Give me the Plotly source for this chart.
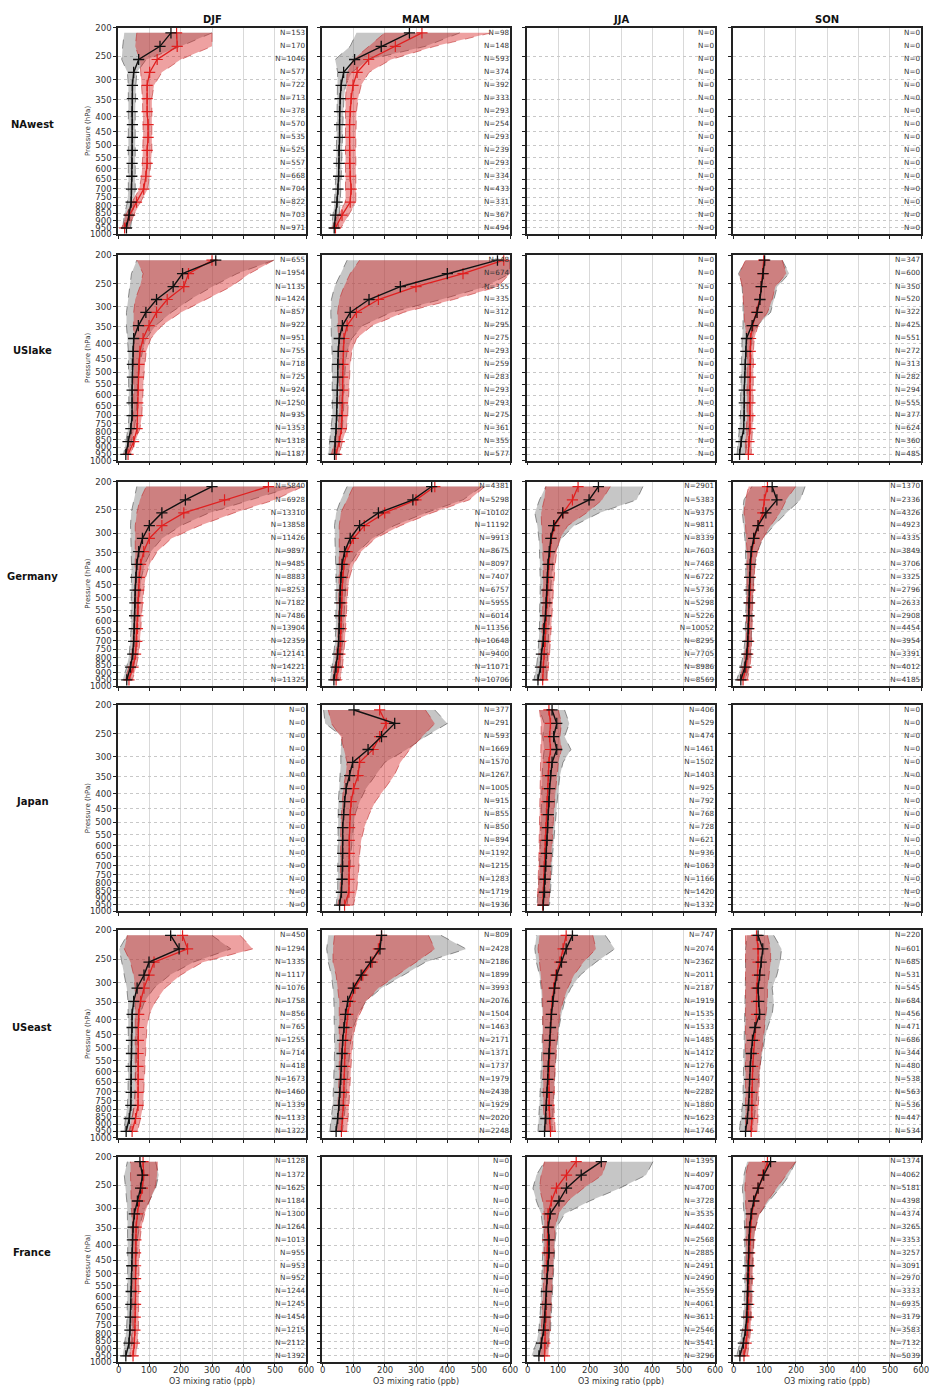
import plotly.graph_objects as go
import math

# ---------------- data ----------------
levels_hpa = [208, 231, 256, 283, 313, 347, 384, 425, 470, 520, 575, 636, 703, 778, 861, 952]
regions = ["NAwest", "USlake", "Germany", "Japan", "USeast", "France"]
seasons = ["DJF", "MAM", "JJA", "SON"]
pressure_ticks = [200, 250, 300, 350, 400, 450, 500, 550, 600, 650, 700, 750, 800, 850, 900, 950, 1000]
ozone_ticks = [0, 100, 200, 300, 400, 500, 600]

# NAwest DJF
naw_djf_obs = [169, 134, 66, 50, 46, 46, 45, 46, 46, 46, 45, 44, 43, 42, 35, 27]
naw_djf_obs_lo = [20, 15, 12, 30, 33, 33, 33, 33, 33, 33, 33, 33, 33, 30, 20, 15]
naw_djf_obs_hi = [300, 200, 90, 60, 57, 55, 55, 55, 55, 55, 55, 55, 55, 52, 45, 40]
naw_djf_mod = [187, 189, 125, 101, 93, 93, 93, 96, 96, 93, 93, 89, 82, 59, 37, 21]
naw_djf_mod_lo = [60, 55, 70, 72, 75, 78, 80, 80, 80, 80, 78, 75, 68, 45, 25, 12]
naw_djf_mod_hi = [300, 300, 200, 140, 115, 108, 108, 108, 108, 108, 105, 100, 95, 72, 50, 35]
# NAwest MAM
naw_mam_obs = [279, 189, 104, 69, 61, 58, 56, 56, 56, 54, 54, 53, 51, 48, 43, 39]
naw_mam_obs_lo = [110, 90, 42, 50, 50, 48, 48, 47, 47, 46, 46, 45, 42, 40, 35, 30]
naw_mam_obs_hi = [440, 330, 150, 95, 75, 70, 68, 67, 66, 65, 64, 63, 60, 58, 55, 52]
naw_mam_mod = [319, 234, 149, 112, 99, 93, 90, 88, 88, 88, 88, 90, 93, 90, 64, 43]
naw_mam_mod_lo = [200, 150, 100, 80, 78, 75, 75, 75, 75, 75, 75, 75, 75, 75, 50, 30]
naw_mam_mod_hi = [540, 360, 220, 150, 125, 115, 110, 108, 108, 108, 108, 108, 108, 108, 85, 60]
# USlake DJF
usl_djf_obs = [312, 206, 176, 123, 89, 65, 50, 48, 46, 46, 45, 45, 45, 41, 32, 25]
usl_djf_obs_lo = [60, 43, 37, 32, 27, 27, 30, 33, 35, 35, 35, 35, 35, 32, 24, 18]
usl_djf_obs_hi = [497, 380, 300, 230, 170, 120, 90, 78, 70, 65, 62, 60, 58, 52, 42, 34]
usl_djf_mod = [300, 225, 210, 157, 123, 99, 80, 70, 67, 65, 64, 63, 62, 61, 50, 32]
usl_djf_mod_lo = [60, 80, 70, 55, 50, 48, 48, 50, 50, 50, 50, 50, 48, 45, 35, 22]
usl_djf_mod_hi = [497, 420, 360, 280, 200, 140, 105, 90, 85, 82, 80, 78, 76, 70, 55, 40]
# USlake MAM
usl_mam_obs = [560, 400, 250, 150, 90, 65, 55, 52, 50, 50, 49, 48, 47, 45, 42, 40]
usl_mam_obs_lo = [80, 60, 40, 30, 28, 28, 30, 32, 33, 33, 33, 33, 33, 30, 25, 20]
usl_mam_obs_hi = [600, 600, 520, 380, 220, 130, 95, 80, 75, 72, 70, 70, 68, 65, 55, 50]
usl_mam_mod = [580, 450, 300, 180, 110, 80, 70, 68, 67, 66, 66, 65, 64, 62, 55, 45]
usl_mam_mod_lo = [120, 90, 70, 55, 50, 50, 52, 55, 55, 55, 55, 55, 55, 50, 40, 30]
usl_mam_mod_hi = [600, 600, 560, 420, 260, 160, 110, 95, 90, 88, 85, 85, 82, 78, 65, 55]
# USlake SON
usl_son_obs = [101, 96, 90, 86, 77, 61, 43, 41, 39, 37, 36, 36, 36, 34, 26, 21]
usl_son_obs_lo = [40, 18, 29, 32, 32, 32, 29, 27, 26, 25, 25, 24, 24, 22, 17, 13]
usl_son_obs_hi = [157, 179, 141, 131, 120, 77, 61, 58, 57, 56, 56, 55, 54, 50, 45, 40]
usl_son_mod = [98, 95, 90, 85, 75, 63, 56, 55, 55, 55, 54, 54, 54, 54, 51, 49]
usl_son_mod_lo = [40, 20, 30, 33, 35, 38, 45, 45, 45, 45, 45, 45, 45, 43, 40, 38]
usl_son_mod_hi = [157, 170, 135, 125, 110, 80, 68, 65, 65, 64, 64, 64, 64, 63, 60, 58]
# Germany DJF
ger_djf_obs = [300, 215, 140, 100, 78, 66, 60, 57, 55, 54, 53, 52, 50, 47, 40, 28]
ger_djf_obs_lo = [60, 50, 42, 40, 40, 42, 43, 43, 43, 43, 42, 42, 40, 36, 28, 15]
ger_djf_obs_hi = [560, 420, 290, 200, 140, 105, 85, 75, 70, 67, 65, 63, 60, 57, 50, 40]
ger_djf_mod = [480, 340, 210, 140, 100, 82, 72, 68, 66, 64, 63, 62, 60, 56, 48, 35]
ger_djf_mod_lo = [90, 70, 60, 55, 55, 55, 55, 55, 53, 52, 52, 50, 48, 44, 35, 22]
ger_djf_mod_hi = [590, 500, 370, 260, 170, 125, 100, 88, 82, 78, 75, 73, 70, 66, 58, 46]
# Germany MAM
ger_mam_obs = [350, 290, 180, 120, 90, 72, 64, 60, 58, 57, 56, 55, 53, 50, 45, 38]
ger_mam_obs_lo = [80, 60, 45, 40, 40, 42, 44, 45, 45, 45, 45, 44, 42, 38, 32, 25]
ger_mam_obs_hi = [510, 450, 330, 230, 160, 115, 90, 80, 75, 72, 70, 68, 66, 62, 57, 50]
ger_mam_mod = [360, 300, 200, 135, 100, 80, 70, 66, 64, 63, 62, 61, 60, 57, 52, 45]
ger_mam_mod_lo = [100, 80, 60, 55, 55, 55, 55, 55, 54, 54, 53, 52, 50, 46, 40, 32]
ger_mam_mod_hi = [520, 470, 350, 250, 170, 125, 100, 88, 82, 79, 77, 75, 73, 70, 65, 58]
# Germany JJA
ger_jja_obs = [228, 198, 114, 85, 76, 71, 67, 65, 63, 61, 59, 54, 52, 46, 43, 35]
ger_jja_obs_lo = [60, 40, 25, 33, 38, 40, 42, 42, 42, 42, 40, 40, 38, 35, 30, 22]
ger_jja_obs_hi = [370, 350, 230, 150, 110, 90, 82, 78, 75, 73, 72, 70, 68, 66, 64, 62]
ger_jja_mod = [163, 145, 115, 88, 78, 73, 70, 68, 66, 64, 62, 60, 58, 55, 52, 50]
ger_jja_mod_lo = [60, 55, 45, 45, 48, 50, 52, 52, 52, 50, 50, 50, 48, 46, 44, 42]
ger_jja_mod_hi = [266, 240, 190, 130, 105, 95, 90, 86, 84, 82, 80, 78, 76, 72, 68, 66]
# Germany SON
ger_son_obs = [125, 140, 105, 80, 66, 58, 55, 53, 52, 51, 50, 49, 47, 44, 38, 25]
ger_son_obs_lo = [60, 35, 30, 33, 38, 40, 42, 42, 42, 42, 41, 40, 38, 33, 25, 12]
ger_son_obs_hi = [230, 215, 170, 130, 95, 78, 70, 66, 64, 62, 61, 60, 58, 55, 50, 40]
ger_son_mod = [110, 100, 95, 80, 68, 60, 57, 55, 54, 53, 52, 51, 50, 47, 42, 32]
ger_son_mod_lo = [50, 40, 35, 40, 42, 45, 45, 45, 45, 45, 44, 43, 42, 38, 32, 20]
ger_son_mod_hi = [200, 170, 150, 120, 95, 78, 70, 67, 65, 63, 62, 61, 60, 58, 54, 46]
# Japan MAM
jap_mam_obs = [102, 232, 190, 147, 98, 88, 77, 72, 69, 66, 66, 66, 66, 64, 62, 56]
jap_mam_obs_lo = [5, 10, 65, 60, 60, 58, 55, 52, 50, 50, 50, 50, 50, 50, 50, 45]
jap_mam_obs_hi = [360, 400, 330, 270, 200, 170, 140, 120, 105, 100, 95, 92, 90, 88, 85, 80]
jap_mam_mod = [184, 205, 184, 163, 120, 115, 101, 93, 90, 88, 87, 87, 86, 86, 86, 72]
jap_mam_mod_lo = [20, 30, 60, 70, 80, 75, 68, 65, 62, 60, 58, 58, 58, 58, 58, 50]
jap_mam_mod_hi = [330, 360, 320, 280, 250, 230, 200, 170, 150, 135, 125, 120, 118, 115, 110, 100]
# Japan JJA
jap_jja_obs = [80, 95, 85, 95, 80, 75, 72, 70, 68, 66, 64, 62, 60, 58, 56, 52]
jap_jja_obs_lo = [40, 55, 50, 55, 50, 48, 48, 46, 45, 44, 43, 42, 40, 38, 36, 32]
jap_jja_obs_hi = [120, 135, 120, 140, 115, 105, 100, 96, 92, 88, 85, 82, 80, 78, 76, 72]
jap_jja_mod = [70, 75, 72, 75, 70, 68, 66, 64, 62, 60, 58, 56, 55, 54, 52, 50]
jap_jja_mod_lo = [40, 45, 45, 45, 45, 44, 43, 42, 41, 40, 39, 38, 37, 36, 35, 33]
jap_jja_mod_hi = [100, 110, 105, 110, 100, 95, 92, 88, 85, 82, 80, 78, 76, 74, 72, 70]
# USeast DJF
use_djf_obs = [168, 195, 99, 83, 61, 50, 45, 45, 43, 43, 42, 42, 42, 41, 36, 26]
use_djf_obs_lo = [29, 4, 10, 20, 28, 32, 33, 33, 33, 33, 33, 33, 32, 30, 25, 18]
use_djf_obs_hi = [300, 360, 240, 165, 115, 85, 70, 65, 62, 60, 58, 57, 56, 52, 45, 38]
use_djf_mod = [206, 222, 115, 99, 83, 72, 66, 65, 65, 64, 64, 64, 64, 64, 56, 45]
use_djf_mod_lo = [30, 20, 40, 50, 55, 55, 55, 55, 55, 55, 55, 55, 55, 52, 45, 35]
use_djf_mod_hi = [390, 430, 270, 200, 150, 120, 100, 92, 90, 88, 86, 85, 84, 80, 72, 62]
# USeast MAM
use_mam_obs = [190, 185, 155, 125, 100, 82, 75, 70, 66, 64, 62, 60, 57, 54, 50, 45]
use_mam_obs_lo = [20, 15, 20, 30, 35, 38, 40, 40, 40, 40, 40, 38, 36, 34, 30, 25]
use_mam_obs_hi = [380, 460, 330, 260, 190, 140, 115, 100, 92, 88, 85, 82, 78, 75, 70, 65]
use_mam_mod = [190, 180, 160, 130, 105, 90, 82, 78, 75, 73, 72, 71, 70, 68, 65, 62]
use_mam_mod_lo = [40, 35, 35, 45, 50, 55, 56, 56, 56, 55, 55, 54, 54, 52, 50, 48]
use_mam_mod_hi = [340, 360, 300, 240, 180, 140, 120, 105, 98, 95, 92, 90, 88, 86, 83, 80]
# USeast JJA
use_jja_obs = [145, 125, 110, 95, 88, 82, 78, 75, 72, 70, 68, 66, 64, 62, 60, 56]
use_jja_obs_lo = [30, 25, 30, 40, 45, 48, 50, 50, 50, 48, 46, 44, 42, 40, 38, 35]
use_jja_obs_hi = [250, 280, 220, 170, 140, 120, 110, 102, 97, 93, 90, 88, 86, 84, 82, 80]
use_jja_mod = [125, 115, 105, 92, 85, 80, 77, 75, 73, 72, 71, 70, 70, 70, 72, 75]
use_jja_mod_lo = [40, 35, 40, 45, 48, 50, 52, 52, 52, 52, 52, 52, 52, 52, 55, 58]
use_jja_mod_hi = [210, 220, 180, 150, 130, 115, 105, 100, 96, 93, 90, 88, 87, 86, 88, 90]
# USeast SON
use_son_obs = [80, 95, 90, 85, 80, 82, 85, 70, 62, 58, 55, 53, 52, 50, 46, 40]
use_son_obs_lo = [45, 40, 40, 40, 40, 38, 38, 38, 36, 35, 34, 33, 32, 30, 25, 20]
use_son_obs_hi = [130, 155, 150, 140, 125, 130, 125, 110, 100, 92, 86, 82, 78, 74, 68, 60]
use_son_mod = [75, 80, 80, 78, 75, 75, 75, 72, 68, 65, 63, 62, 60, 60, 60, 58]
use_son_mod_lo = [40, 40, 42, 42, 42, 42, 42, 42, 42, 42, 42, 42, 40, 40, 40, 40]
use_son_mod_hi = [110, 120, 120, 115, 110, 110, 105, 100, 95, 90, 86, 84, 82, 80, 80, 78]
# France DJF
fra_djf_obs = [70, 78, 72, 62, 52, 48, 46, 45, 44, 43, 42, 41, 40, 38, 35, 25]
fra_djf_obs_lo = [30, 20, 25, 28, 30, 30, 31, 31, 31, 31, 30, 30, 29, 27, 22, 15]
fra_djf_obs_hi = [120, 130, 120, 100, 80, 68, 62, 60, 58, 56, 55, 54, 52, 50, 45, 38]
fra_djf_mod = [80, 82, 78, 68, 62, 58, 57, 56, 56, 56, 56, 56, 55, 54, 52, 48]
fra_djf_mod_lo = [40, 40, 40, 42, 44, 45, 46, 46, 46, 46, 46, 46, 45, 44, 42, 38]
fra_djf_mod_hi = [125, 125, 118, 100, 85, 75, 70, 68, 67, 67, 67, 67, 66, 65, 62, 58]
# France JJA
fra_jja_obs = [237, 173, 126, 102, 74, 68, 70, 70, 67, 64, 62, 60, 57, 53, 46, 38]
fra_jja_obs_lo = [56, 30, 19, 30, 45, 50, 50, 50, 50, 48, 46, 44, 42, 38, 30, 14]
fra_jja_obs_hi = [402, 380, 296, 200, 120, 95, 90, 88, 86, 84, 82, 80, 78, 75, 68, 56]
fra_jja_mod = [157, 126, 94, 78, 67, 66, 66, 65, 64, 63, 62, 61, 60, 58, 57, 56]
fra_jja_mod_lo = [56, 45, 40, 50, 55, 55, 55, 55, 55, 53, 52, 50, 48, 46, 44, 42]
fra_jja_mod_hi = [253, 240, 180, 130, 100, 90, 88, 86, 84, 82, 80, 78, 76, 72, 70, 68]
# France SON
fra_son_obs = [120, 98, 80, 66, 58, 53, 51, 50, 49, 48, 47, 46, 44, 40, 33, 22]
fra_son_obs_lo = [45, 35, 30, 32, 35, 37, 38, 38, 38, 38, 37, 36, 34, 30, 22, 12]
fra_son_obs_hi = [200, 180, 150, 115, 85, 72, 66, 63, 61, 59, 58, 57, 55, 52, 46, 36]
fra_son_mod = [110, 95, 80, 68, 60, 56, 54, 53, 52, 51, 50, 50, 49, 46, 42, 35]
fra_son_mod_lo = [50, 40, 38, 40, 42, 44, 44, 44, 44, 43, 43, 42, 41, 38, 33, 25]
fra_son_mod_hi = [200, 170, 140, 110, 85, 72, 67, 65, 63, 62, 61, 60, 59, 56, 52, 46]

# sample counts (N=...) per panel, top to bottom
zeros16 = [0] * 16
n_naw_djf = [153, 170, 1046, 577, 722, 713, 378, 570, 535, 525, 557, 668, 704, 822, 703, 971]
n_naw_mam = [98, 148, 593, 374, 392, 333, 293, 254, 293, 239, 293, 334, 433, 331, 367, 494]
n_usl_djf = [655, 1954, 1135, 1424, 857, 922, 951, 755, 718, 725, 924, 1250, 935, 1353, 1318, 1187]
n_usl_mam = [48, 674, 355, 335, 312, 295, 275, 293, 259, 283, 293, 293, 275, 361, 355, 577]
n_usl_son = [347, 600, 350, 520, 322, 425, 551, 272, 313, 282, 294, 555, 377, 624, 360, 485]
n_ger_djf = [5840, 6928, 13310, 13858, 11426, 9897, 9485, 8883, 8253, 7182, 7486, 13904, 12359, 12141, 14221, 11325]
n_ger_mam = [4381, 5298, 10102, 11192, 9913, 8675, 8097, 7407, 6757, 5955, 6014, 11356, 10648, 9400, 11071, 10706]
n_ger_jja = [2901, 5383, 9375, 9811, 8339, 7603, 7468, 6722, 5736, 5298, 5226, 10052, 8295, 7705, 8986, 8569]
n_ger_son = [1370, 2336, 4326, 4923, 4335, 3849, 3706, 3325, 2796, 2633, 2908, 4454, 3954, 3391, 4012, 4185]
n_jap_mam = [377, 291, 593, 1669, 1570, 1267, 1005, 915, 855, 850, 894, 1192, 1215, 1283, 1719, 1936]
n_jap_jja = [406, 529, 474, 1461, 1502, 1403, 925, 792, 768, 728, 621, 936, 1063, 1166, 1420, 1332]
n_use_djf = [450, 1294, 1335, 1117, 1076, 1758, 856, 765, 1255, 714, 418, 1673, 1460, 1339, 1133, 1322]
n_use_mam = [809, 2428, 2186, 1899, 3993, 2076, 1504, 1463, 2171, 1371, 1737, 1979, 2438, 1929, 2020, 2248]
n_use_jja = [747, 2074, 2362, 2011, 2187, 1919, 1535, 1533, 1485, 1412, 1276, 1407, 2282, 1880, 1623, 1746]
n_use_son = [220, 601, 685, 531, 545, 684, 456, 471, 686, 344, 480, 538, 563, 536, 447, 534]
n_fra_djf = [1128, 1372, 1625, 1184, 1300, 1264, 1013, 955, 953, 952, 1244, 1245, 1454, 1215, 2112, 1392]
n_fra_jja = [1395, 4097, 4700, 3728, 3535, 4402, 2568, 2885, 2491, 2490, 3559, 4061, 3611, 2546, 3541, 3296]
n_fra_son = [1374, 4062, 5181, 4398, 4374, 3265, 3353, 3257, 3091, 2970, 3333, 6935, 3179, 3583, 7132, 5039]

profiles = {
    ("NAwest", "DJF"): (naw_djf_obs, naw_djf_obs_lo, naw_djf_obs_hi, naw_djf_mod, naw_djf_mod_lo, naw_djf_mod_hi),
    ("NAwest", "MAM"): (naw_mam_obs, naw_mam_obs_lo, naw_mam_obs_hi, naw_mam_mod, naw_mam_mod_lo, naw_mam_mod_hi),
    ("USlake", "DJF"): (usl_djf_obs, usl_djf_obs_lo, usl_djf_obs_hi, usl_djf_mod, usl_djf_mod_lo, usl_djf_mod_hi),
    ("USlake", "MAM"): (usl_mam_obs, usl_mam_obs_lo, usl_mam_obs_hi, usl_mam_mod, usl_mam_mod_lo, usl_mam_mod_hi),
    ("USlake", "SON"): (usl_son_obs, usl_son_obs_lo, usl_son_obs_hi, usl_son_mod, usl_son_mod_lo, usl_son_mod_hi),
    ("Germany", "DJF"): (ger_djf_obs, ger_djf_obs_lo, ger_djf_obs_hi, ger_djf_mod, ger_djf_mod_lo, ger_djf_mod_hi),
    ("Germany", "MAM"): (ger_mam_obs, ger_mam_obs_lo, ger_mam_obs_hi, ger_mam_mod, ger_mam_mod_lo, ger_mam_mod_hi),
    ("Germany", "JJA"): (ger_jja_obs, ger_jja_obs_lo, ger_jja_obs_hi, ger_jja_mod, ger_jja_mod_lo, ger_jja_mod_hi),
    ("Germany", "SON"): (ger_son_obs, ger_son_obs_lo, ger_son_obs_hi, ger_son_mod, ger_son_mod_lo, ger_son_mod_hi),
    ("Japan", "MAM"): (jap_mam_obs, jap_mam_obs_lo, jap_mam_obs_hi, jap_mam_mod, jap_mam_mod_lo, jap_mam_mod_hi),
    ("Japan", "JJA"): (jap_jja_obs, jap_jja_obs_lo, jap_jja_obs_hi, jap_jja_mod, jap_jja_mod_lo, jap_jja_mod_hi),
    ("USeast", "DJF"): (use_djf_obs, use_djf_obs_lo, use_djf_obs_hi, use_djf_mod, use_djf_mod_lo, use_djf_mod_hi),
    ("USeast", "MAM"): (use_mam_obs, use_mam_obs_lo, use_mam_obs_hi, use_mam_mod, use_mam_mod_lo, use_mam_mod_hi),
    ("USeast", "JJA"): (use_jja_obs, use_jja_obs_lo, use_jja_obs_hi, use_jja_mod, use_jja_mod_lo, use_jja_mod_hi),
    ("USeast", "SON"): (use_son_obs, use_son_obs_lo, use_son_obs_hi, use_son_mod, use_son_mod_lo, use_son_mod_hi),
    ("France", "DJF"): (fra_djf_obs, fra_djf_obs_lo, fra_djf_obs_hi, fra_djf_mod, fra_djf_mod_lo, fra_djf_mod_hi),
    ("France", "JJA"): (fra_jja_obs, fra_jja_obs_lo, fra_jja_obs_hi, fra_jja_mod, fra_jja_mod_lo, fra_jja_mod_hi),
    ("France", "SON"): (fra_son_obs, fra_son_obs_lo, fra_son_obs_hi, fra_son_mod, fra_son_mod_lo, fra_son_mod_hi),
}
counts = {
    ("NAwest", "DJF"): n_naw_djf, ("NAwest", "MAM"): n_naw_mam,
    ("USlake", "DJF"): n_usl_djf, ("USlake", "MAM"): n_usl_mam, ("USlake", "SON"): n_usl_son,
    ("Germany", "DJF"): n_ger_djf, ("Germany", "MAM"): n_ger_mam, ("Germany", "JJA"): n_ger_jja, ("Germany", "SON"): n_ger_son,
    ("Japan", "MAM"): n_jap_mam, ("Japan", "JJA"): n_jap_jja,
    ("USeast", "DJF"): n_use_djf, ("USeast", "MAM"): n_use_mam, ("USeast", "JJA"): n_use_jja, ("USeast", "SON"): n_use_son,
    ("France", "DJF"): n_fra_djf, ("France", "JJA"): n_fra_jja, ("France", "SON"): n_fra_son,
}

# ---------------- layout ----------------
W, H = 930, 1392
col_px = [(118, 306), (322, 510), (527, 715), (733, 921)]
row_px = [(23, 231), (252, 459), (480, 686), (705, 913), (932, 1141), (1160, 1367)]
FONT = "DejaVu Sans"

GREY_FILL = "rgba(120,120,120,0.42)"
GREY_EDGE = "rgba(70,70,70,0.8)"
RED_FILL = "rgba(215,30,30,0.42)"
RED_EDGE = "rgba(190,40,40,0.8)"

fig = go.Figure()
layout_axes = {}
annotations = []

for r, reg in enumerate(regions):
    for c, sea in enumerate(seasons):
        k = r * 4 + c + 1
        sfx = "" if k == 1 else str(k)
        xa, ya = "x" + sfx, "y" + sfx
        x0, x1 = col_px[c]
        y0, y1 = row_px[r]
        layout_axes["xaxis" + sfx] = dict(
            domain=[x0 / W, x1 / W], anchor=ya, range=[0, 600],
            tickvals=ozone_ticks, showticklabels=False,
            ticks="outside", ticklen=3, tickwidth=1, tickcolor="#222",
            showgrid=True, gridcolor="#d9d9d9", gridwidth=1,
            showline=True, linecolor="#222", linewidth=1.5, mirror=True,
            zeroline=False,
        )
        layout_axes["yaxis" + sfx] = dict(
            domain=[1 - y1 / H, 1 - y0 / H], anchor=xa, type="log",
            range=[math.log10(1000), math.log10(200)],
            tickvals=pressure_ticks, ticktext=[str(t) for t in pressure_ticks],
            showticklabels=(c == 0),
            ticks="outside", ticklen=3, tickwidth=1, tickcolor="#222",
            showgrid=True, gridcolor="#c8c8c8", gridwidth=0.8, griddash="dot",
            showline=True, linecolor="#222", linewidth=1.5, mirror=True,
            zeroline=False, tickfont=dict(family=FONT, size=8.5, color="#333"),
        )

        key = (reg, sea)
        if key in profiles:
            obs, olo, ohi, mod, mlo, mhi = profiles[key]
            lev = levels_hpa
            fig.add_trace(go.Scatter(
                x=list(ohi) + list(olo)[::-1], y=lev + lev[::-1], fill="toself",
                fillcolor=GREY_FILL, mode="lines",
                line=dict(color=GREY_EDGE, width=0.7, dash="dash"),
                xaxis=xa, yaxis=ya, hoverinfo="skip", showlegend=False))
            fig.add_trace(go.Scatter(
                x=list(mhi) + list(mlo)[::-1], y=lev + lev[::-1], fill="toself",
                fillcolor=RED_FILL, mode="lines",
                line=dict(color=RED_EDGE, width=0.7, dash="dash"),
                xaxis=xa, yaxis=ya, hoverinfo="skip", showlegend=False))
            fig.add_trace(go.Scatter(
                x=mod, y=lev, mode="lines+markers",
                line=dict(color="#e02020", width=1.3),
                marker=dict(symbol="cross-thin", size=8, line=dict(color="#e02020", width=1.2)),
                xaxis=xa, yaxis=ya, showlegend=False))
            fig.add_trace(go.Scatter(
                x=obs, y=lev, mode="lines+markers",
                line=dict(color="#111111", width=1.4),
                marker=dict(symbol="cross-thin", size=8, line=dict(color="#111111", width=1.3)),
                xaxis=xa, yaxis=ya, showlegend=False))
        nvals = counts.get(key, zeros16)
        fig.add_trace(go.Scatter(
            x=[597] * len(levels_hpa), y=levels_hpa, mode="text",
            text=["N=%d" % n for n in nvals], textposition="middle left",
            textfont=dict(family=FONT, size=7.2, color="#333"),
            xaxis=xa, yaxis=ya, hoverinfo="skip", showlegend=False, cliponaxis=False))

        # x tick labels on bottom row
        if r == len(regions) - 1:
            for t in ozone_ticks:
                annotations.append(dict(x=t, xref=xa, y=1 - 1375 / H, yref="paper", text=str(t),
                                        showarrow=False, font=dict(family=FONT, size=8.5, color="#333"),
                                        xanchor="center", yanchor="middle"))

# column titles
for c, sea in enumerate(seasons):
    xc = (col_px[c][0] + col_px[c][1]) / 2 / W
    annotations.append(dict(x=xc, y=1 - 15 / H, xref="paper", yref="paper", text="<b>%s</b>" % sea,
                            showarrow=False, font=dict(family=FONT, size=10, color="#111"),
                            xanchor="center", yanchor="middle"))
# row labels and y titles
for r, reg in enumerate(regions):
    yc = 1 - ((row_px[r][0] + row_px[r][1]) / 2 - 7) / H
    annotations.append(dict(x=32 / W, y=yc, xref="paper", yref="paper", text="<b>%s</b>" % reg,
                            showarrow=False, font=dict(family=FONT, size=10, color="#111"),
                            xanchor="center", yanchor="middle"))
    annotations.append(dict(x=88 / W, y=1 - ((row_px[r][0] + row_px[r][1]) / 2) / H,
                            xref="paper", yref="paper", text="Pressure (hPa)",
                            showarrow=False, textangle=-90, font=dict(family=FONT, size=7, color="#333"),
                            xanchor="center", yanchor="middle"))
# x titles
for c in range(4):
    xc = (col_px[c][0] + col_px[c][1]) / 2 / W
    annotations.append(dict(x=xc, y=1 - 1386 / H, xref="paper", yref="paper", text="O3 mixing ratio (ppb)",
                            showarrow=False, font=dict(family=FONT, size=8, color="#333"),
                            xanchor="center", yanchor="middle"))

fig.update_layout(
    width=W, height=H, margin=dict(l=0, r=0, t=0, b=0),
    paper_bgcolor="white", plot_bgcolor="white",
    showlegend=False, annotations=annotations, **layout_axes,
)
fig.write_html("out.html", config={"displayModeBar": False},
               post_script="document.body.style.margin='0';document.body.style.overflow='hidden';")
